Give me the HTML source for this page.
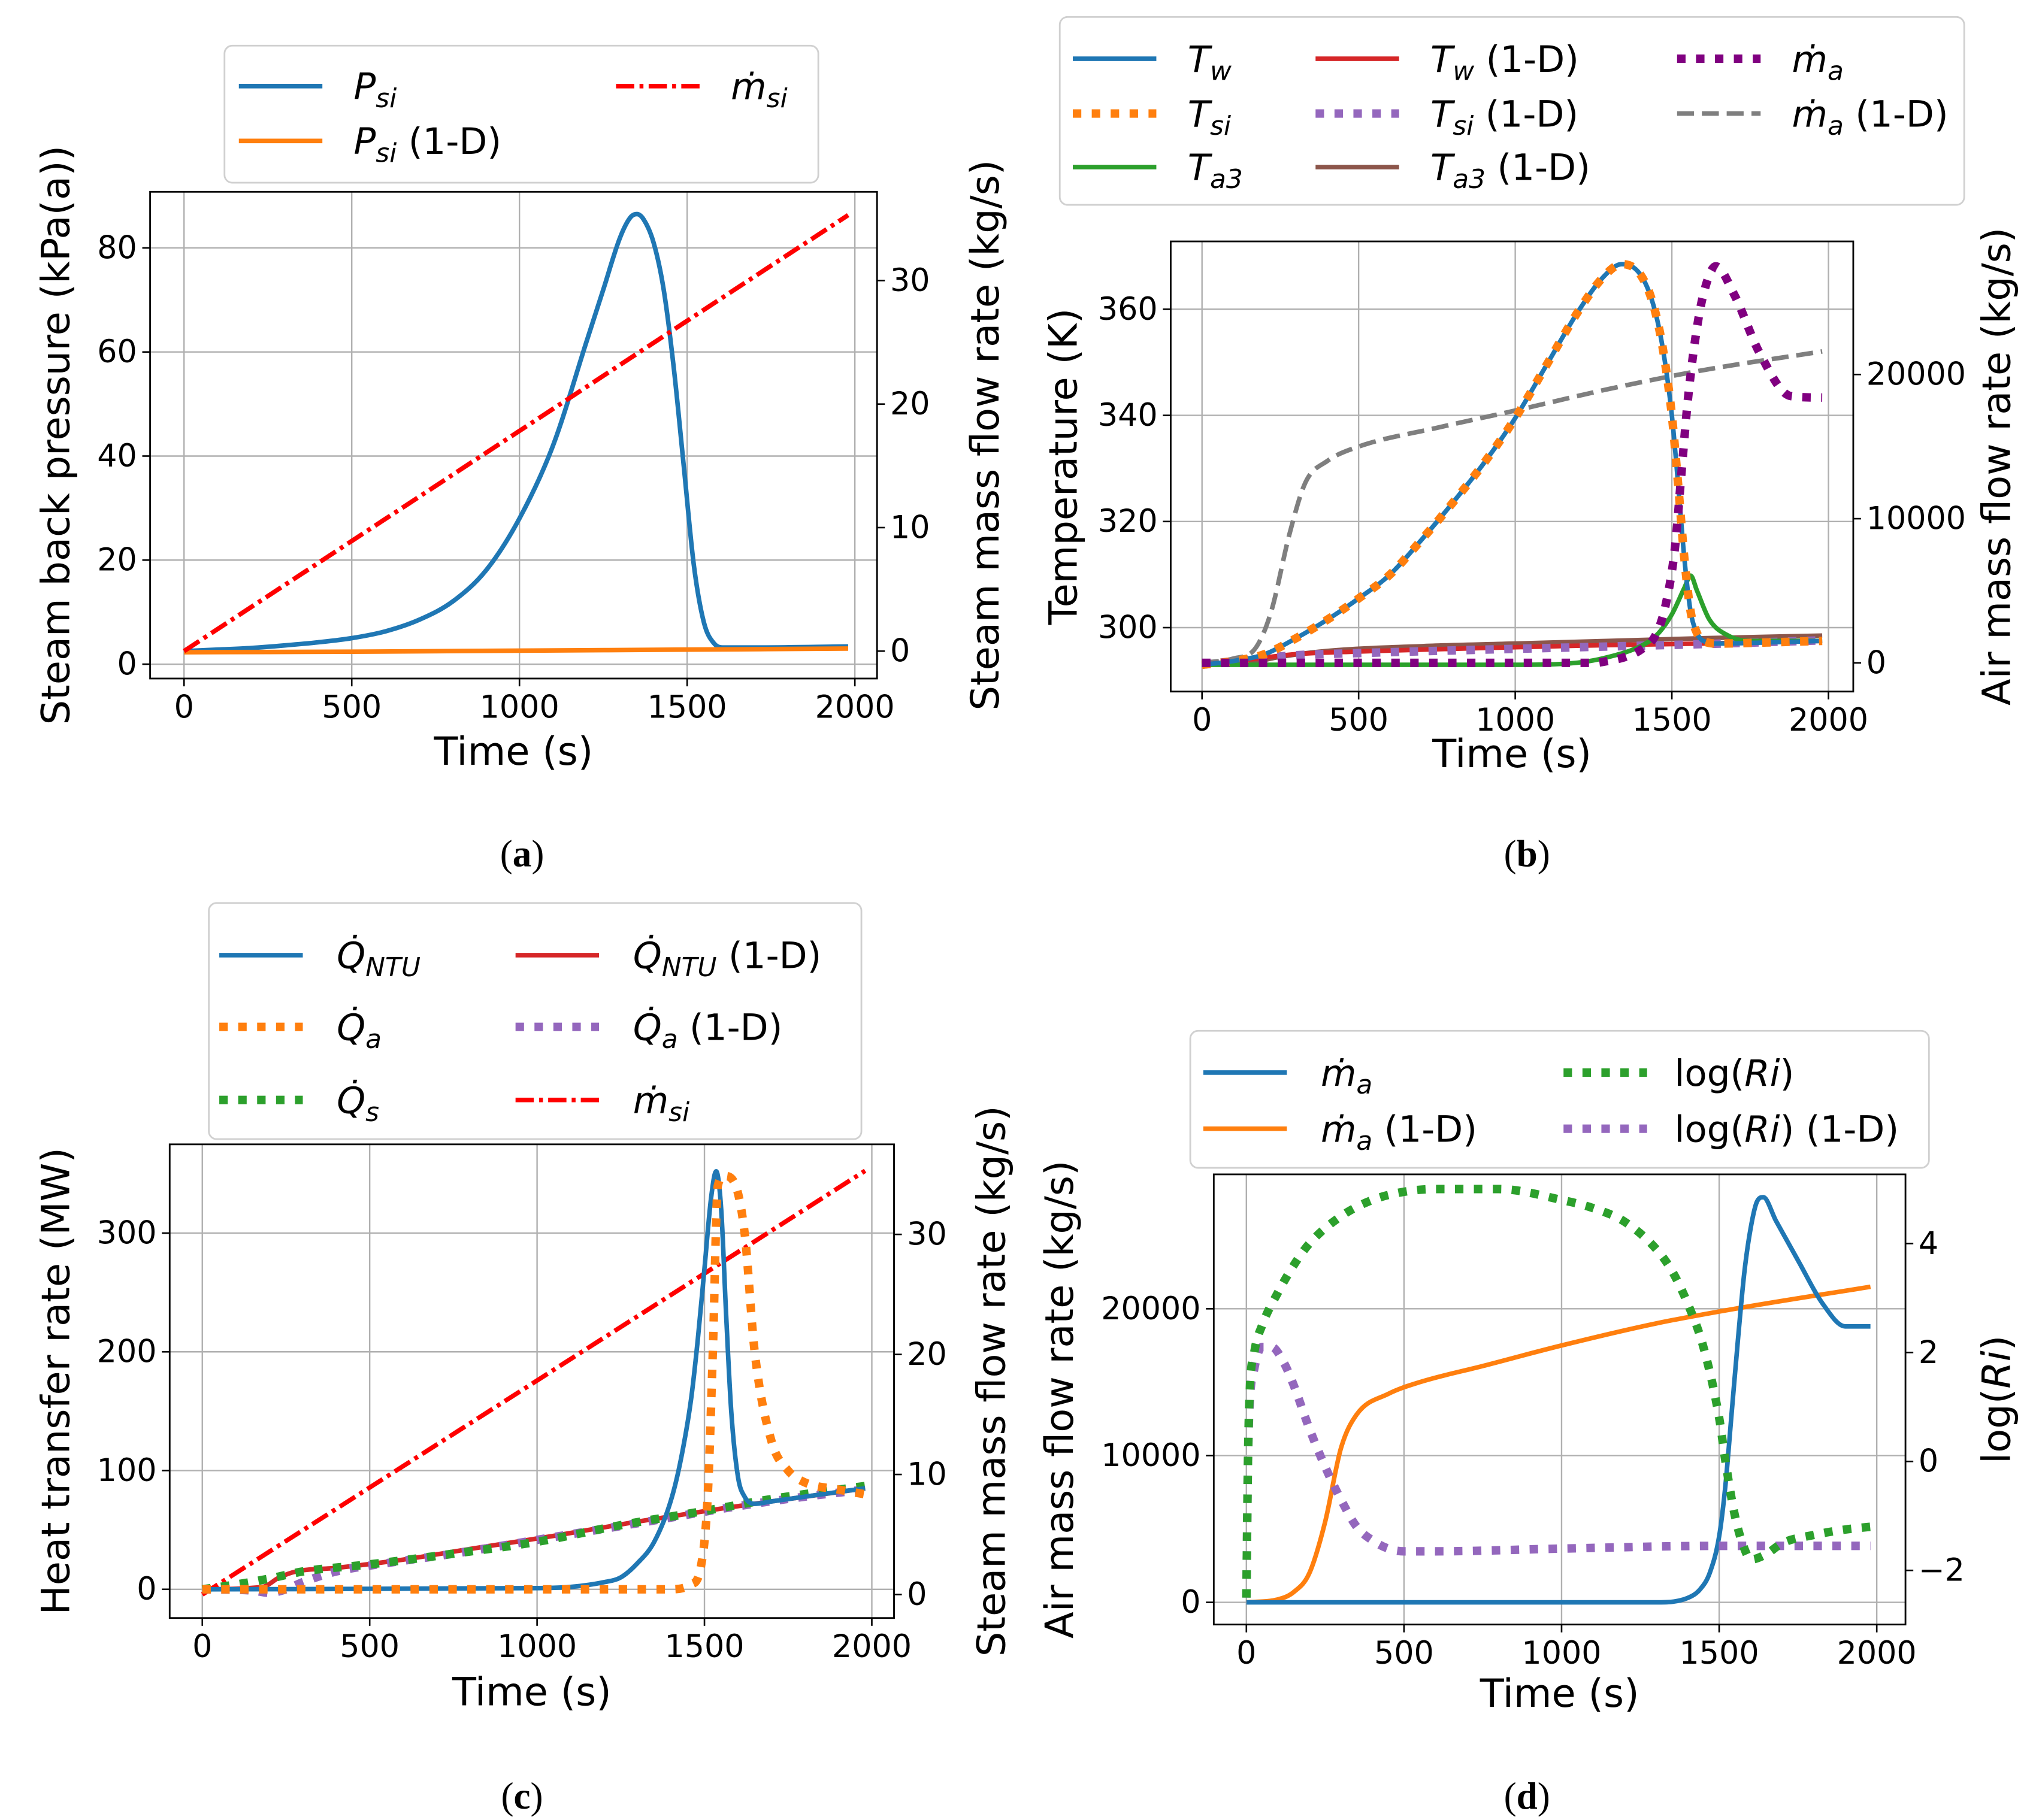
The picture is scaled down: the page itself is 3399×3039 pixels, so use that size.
<!DOCTYPE html>
<html><head><meta charset="utf-8"><style>
html,body{margin:0;padding:0;background:#fff;}
svg{display:block;}
text{font-family:"DejaVu Sans","Liberation Sans",sans-serif;}
text.cap{font-family:"Liberation Serif",serif;}
</style></head><body>
<svg id="fig" xmlns="http://www.w3.org/2000/svg" width="3399" height="3039" viewBox="0 0 1560 1394.8"></svg>
<script>
// ---------- DATA ----------
const timeTicks=[0,500,1000,1500,2000];
// Panel a
const aPsiT=[0,100,200,300,400,500,600,700,800,900,1000,1100,1200,1250,1300,1330,1350,1370,1400,1430,1460,1490,1520,1550,1580,1610,1700,1980];
const aPsiV=[2.5,2.8,3.1,3.6,4.2,5.0,6.3,8.5,12,18,28,42,62,72,82,85.8,86.5,85.5,81,72,57,38,19,8,4,3.2,3.2,3.4];
const aPsi1T=[0,500,1000,1500,1980];
const aPsi1V=[2.3,2.4,2.6,2.8,3.0];
const aMsiT=[0,1980];
const aMsiV=[0,35.3];
const aLeftTicks=[0,20,40,60,80];
const aRightTicks=[0,10,20,30];
// Panel b
const bTwT=[0,100,200,300,400,500,600,700,800,900,1000,1100,1200,1280,1340,1400,1440,1470,1500,1520,1540,1560,1580,1600,1650,1800,1980];
const bTwV=[293,293.7,295,298,301.5,305.5,310,316.5,323.5,331,339.5,349.5,359.5,366,368.5,366.5,361,353,340,327,313,303,299,297.5,297,297.2,297.5];
const bTa3T=[0,1000,1200,1300,1400,1450,1500,1540,1560,1580,1620,1680,1750,1980];
const bTa3V=[293,293,293.4,294.5,296.5,298.5,302.5,307.5,309.8,307,301.5,298.5,297.5,297.5];
const bTw1T=[0,150,300,500,800,1200,1600,1980];
const bTw1V=[293,294,295,295.5,296,296.6,297,297.5];
const bTsi1T=[0,150,300,500,800,1200,1600,1980];
const bTsi1V=[293,294,294.8,295.2,295.7,296.3,296.9,297.6];
const bTa31T=[0,150,250,400,700,1000,1300,1600,1980];
const bTa31V=[293,293.4,294.5,295.6,296.5,297,297.5,298,298.5];
const bMaT=[0,1250,1300,1350,1400,1450,1480,1510,1530,1550,1575,1600,1640,1700,1780,1880,1980];
const bMaV=[0,0,150,400,900,2000,4000,8000,13000,18000,22500,25500,27500,25500,21500,18500,18400];
const bMa1T=[0,100,170,220,280,330,400,500,750,1000,1300,1600,1980];
const bMa1V=[0,300,1000,3500,9000,12500,14000,15000,16300,17500,19000,20300,21600];
const bLeftTicks=[300,320,340,360];
const bRightTicks=[0,10000,20000];
// Panel c
const cNtuT=[0,1000,1100,1200,1250,1300,1350,1400,1430,1460,1480,1500,1520,1535,1550,1565,1580,1600,1620,1650,1700,1800,1900,1980];
const cNtuV=[0,1,2,6,10,22,40,75,110,160,210,270,330,352,320,230,150,95,78,72,74,78,82,85];
const cQaT=[0,1400,1460,1490,1510,1525,1540,1560,1590,1620,1650,1700,1750,1800,1900,1980];
const cQaV=[0,0,4,20,80,200,340,348,342,300,200,125,100,90,84,80];
const cQsT=[0,100,200,300,500,750,1000,1250,1500,1700,1980];
const cQsV=[0,4,9,15,21,30,40,54,66,76,87];
const cNtu1T=[0,180,230,280,400,600,800,1050,1300,1550,1750,1980];
const cNtu1V=[0,2,10,15,18,25,34,45,57,68,76,85];
const cQa1T=[0,150,200,250,300,400,550,750,1050,1350,1600,1800,1980];
const cQa1V=[0,-1,-3,0,6,15,22,30,44,58,70,78,84];
const cMsiT=[0,1980];
const cMsiV=[0,35.3];
const cLeftTicks=[0,100,200,300];
const cRightTicks=[0,10,20,30];
// Panel d
const dMaT=[0,1300,1400,1440,1470,1500,1520,1540,1560,1580,1600,1620,1640,1680,1750,1830,1900,1980];
const dMaV=[0,0,300,900,2000,4500,8000,13000,18000,22500,25500,27300,27600,26000,23300,20300,18800,18800];
const dMa1T=[0,100,150,200,250,300,350,450,550,750,1000,1300,1550,1980];
const dMa1V=[0,200,700,2000,5500,10500,12800,14200,15000,16100,17500,19000,20000,21500];
const dRiT=[0,5,10,25,50,100,150,200,300,400,500,600,800,1000,1100,1200,1300,1350,1400,1450,1500,1520,1550,1580,1600,1650,1700,1800,1900,1980];
const dRiV=[-2.5,0,1.2,2,2.5,3.1,3.6,4,4.5,4.8,4.95,5,5,4.8,4.65,4.4,3.9,3.5,2.9,2.1,0.8,0,-1,-1.6,-1.8,-1.7,-1.5,-1.35,-1.25,-1.2];
const dRi1T=[0,5,10,25,50,80,120,150,200,250,300,350,400,450,500,600,1000,1500,1980];
const dRi1V=[-2.5,0,1,1.7,2.1,2.1,1.8,1.4,0.6,-0.1,-0.7,-1.2,-1.45,-1.6,-1.65,-1.65,-1.6,-1.55,-1.55];
const dLeftTicks=[0,10000,20000];
const dRightTicks=[-2,0,2,4];

// ---------- DRAWING ----------
const NS="http://www.w3.org/2000/svg";
const fig=document.getElementById('fig');
function mk(tag,attrs,parent){const e=document.createElementNS(NS,tag);for(const k in attrs)e.setAttribute(k,attrs[k]);(parent||fig).appendChild(e);return e;}
function lin(d0,d1,p0,p1){return v=>p0+(v-d0)*(p1-p0)/(d1-d0);}
const C={blue:'#1f77b4',orange:'#ff7f0e',green:'#2ca02c',red:'#d62728',purple:'#9467bd',brown:'#8c564b',grey:'#7f7f7f',rred:'#ff0000',dpurple:'#800080'};
const STY={
 solid:{w:3.5,d:''},dot:{w:6.5,d:'6.5 8'},dash:{w:3.5,d:'13 6'},dashdot:{w:3.5,d:'14 4 3 4'}
};
function series(g,xs,ys,T,V,color,sty,name){
  const P=T.map((t,i)=>[xs(t),ys(V[i])]);
  const n=P.length;
  let d='M'+P[0][0].toFixed(2)+','+P[0][1].toFixed(2);
  if(n>2){
    // monotone cubic (Fritsch-Carlson)
    const dx=[],s=[];
    for(let i=0;i<n-1;i++){dx.push(P[i+1][0]-P[i][0]);s.push((P[i+1][1]-P[i][1])/dx[i]);}
    const m=new Array(n);
    m[0]=s[0];m[n-1]=s[n-2];
    for(let i=1;i<n-1;i++){m[i]=(s[i-1]*s[i]<=0)?0:(s[i-1]+s[i])/2;}
    for(let i=0;i<n-1;i++){
      if(s[i]===0){m[i]=0;m[i+1]=0;continue;}
      const a=m[i]/s[i],b=m[i+1]/s[i],h=a*a+b*b;
      if(h>9){const t=3/Math.sqrt(h);m[i]=t*a*s[i];m[i+1]=t*b*s[i];}
    }
    for(let i=0;i<n-1;i++){
      const h=dx[i]/3;
      d+='C'+(P[i][0]+h).toFixed(2)+','+(P[i][1]+m[i]*h).toFixed(2)+' '+(P[i+1][0]-h).toFixed(2)+','+(P[i+1][1]-m[i+1]*h).toFixed(2)+' '+P[i+1][0].toFixed(2)+','+P[i+1][1].toFixed(2);
    }
  } else {
    for(let i=1;i<n;i++)d+='L'+P[i][0].toFixed(2)+','+P[i][1].toFixed(2);
  }
  const p=mk('path',{d:d,fill:'none',stroke:color,'stroke-width':STY[sty].w,'stroke-linejoin':'round'},g);
  if(STY[sty].d)p.setAttribute('stroke-dasharray',STY[sty].d);
  
  
  return p;
}
function label(g,x,y,parts,size,anchor,name){
  const t=mk('text',{x:x,y:y,'font-size':size,'text-anchor':anchor||'start'},g);
  
  
  parts.forEach(p=>{const s=mk('tspan',{},t);s.textContent=p[0];
    if(p[1]=='i')s.setAttribute('font-style','italic');
    if(p[1]=='sub'){s.setAttribute('font-style','italic');s.setAttribute('font-size',size*0.72);s.setAttribute('dy',size*0.22);}
    if(p[1]=='up'){s.setAttribute('dy',-size*0.22);}
  });
  return t;
}
function panel(cfg){
  const g=mk('g',{});
  
  
  const {L,R,T,B}=cfg.box;
  const xs=lin(0,2000,cfg.x0,cfg.x2000);
  const ys=lin(cfg.ly[0],cfg.ly[1],cfg.ly[2],cfg.ly[3]);
  const ry=lin(cfg.ry[0],cfg.ry[1],cfg.ry[2],cfg.ry[3]);
  timeTicks.forEach(t=>{const l=mk('line',{x1:xs(t),x2:xs(t),y1:T,y2:B,stroke:'#b0b0b0','stroke-width':1.1},g);
    });
  cfg.lt.forEach(v=>{const l=mk('line',{x1:L,x2:R,y1:ys(v),y2:ys(v),stroke:'#b0b0b0','stroke-width':1.1},g);
    });
  cfg.series.forEach(s=>series(g,xs,s.right?ry:ys,s.t,s.v,s.c,s.s,s.n));
  const fr=mk('rect',{x:L,y:T,width:R-L,height:B-T,fill:'none',stroke:'#000','stroke-width':1.3},g);
  
  timeTicks.forEach(t=>{mk('line',{x1:xs(t),x2:xs(t),y1:B,y2:B+6,stroke:'#000','stroke-width':1.2},g);
    const tx=mk('text',{x:xs(t),y:B+30,'font-size':24,'text-anchor':'middle'},g);tx.textContent=t;
    });
  cfg.lt.forEach(v=>{mk('line',{x1:L-6,x2:L,y1:ys(v),y2:ys(v),stroke:'#000','stroke-width':1.2},g);
    const tx=mk('text',{x:L-10,y:ys(v)+8,'font-size':24,'text-anchor':'end'},g);tx.textContent=v;
    });
  cfg.rt.forEach(v=>{mk('line',{x1:R,x2:R+6,y1:ry(v),y2:ry(v),stroke:'#000','stroke-width':1.2},g);
    const tx=mk('text',{x:R+10,y:ry(v)+8,'font-size':24,'text-anchor':'start'},g);tx.textContent=(v<0?'\u2212'+(-v):v);
    });
  const xt=mk('text',{x:(L+R)/2,y:cfg.xtY,'font-size':30,'text-anchor':'middle'},g);xt.textContent='Time (s)';
  
  const yl=label(g,0,0,cfg.ylab,30,'middle','left-y-axis-title');
  yl.setAttribute('transform',`translate(${cfg.ylX},${(T+B)/2+cfg.ylOff}) rotate(-90)`);
  const yr=label(g,0,0,cfg.yrlab,30,'middle','right-y-axis-title');
  yr.setAttribute('transform',`translate(${cfg.yrX},${(T+B)/2+cfg.yrOff}) rotate(-90)`);
  const lb=cfg.leg.box;
  const lr=mk('rect',{x:lb[0],y:lb[1],width:lb[2]-lb[0],height:lb[3]-lb[1],rx:6,fill:'#fff','fill-opacity':0.8,stroke:'#d0d0d0','stroke-width':1.3},g);
  
  cfg.leg.items.forEach(it=>{
    const l=mk('line',{x1:it.x,x2:it.x+64,y1:it.y,y2:it.y,stroke:it.c,'stroke-width':STY[it.s].w},g);
    if(STY[it.s].d)l.setAttribute('stroke-dasharray',STY[it.s].d);
    
    label(g,it.x+(it.tx||88),it.y+10,it.lab,28,'start','legend-entry');
  });
  const cap=mk('text',{x:cfg.cap[0],y:cfg.cap[1],'font-size':29,'text-anchor':'middle','class':'cap'},g);
  
  const c1=mk('tspan',{},cap);c1.textContent='(';
  const c2=mk('tspan',{'font-weight':'bold'},cap);c2.textContent=cfg.capL;
  const c3=mk('tspan',{},cap);c3.textContent=')';
}
const MD='m\u0307', QD='Q\u0307';
panel({name:'panel-a',box:{L:115,R:672,T:147,B:520},x0:141,x2000:655,ly:[0,80,509,190],ry:[0,30,499,215],
 lt:aLeftTicks,rt:aRightTicks,xtY:586,ylX:53,ylOff:0,yrX:765,yrOff:0,
 ylab:[['Steam back pressure (kPa(a))']],yrlab:[['Steam mass flow rate (kg/s)']],
 series:[{t:aPsiT,v:aPsiV,c:C.blue,s:'solid',n:'psi-line'},{t:aPsi1T,v:aPsi1V,c:C.orange,s:'solid',n:'psi-1d-line'},
  {t:aMsiT,v:aMsiV,c:C.rred,s:'dashdot',n:'msi-line',right:true}],
 leg:{box:[172,35,627,140],items:[
  {x:183,y:66,c:C.blue,s:'solid',lab:[['P','i'],['si','sub']]},
  {x:183,y:108,c:C.orange,s:'solid',lab:[['P','i'],['si','sub'],[' (1-D)','up']]},
  {x:472,y:66,c:C.rred,s:'dashdot',lab:[[MD,'i'],['si','sub']]}]},
 cap:[400,664],capL:'a'});
panel({name:'panel-b',box:{L:897,R:1420,T:185,B:530},x0:921,x2000:1401,ly:[300,360,481,237],ry:[0,20000,508,287],
 lt:bLeftTicks,rt:bRightTicks,xtY:588,ylX:825,ylOff:0,yrX:1540,yrOff:0,
 ylab:[['Temperature (K)']],yrlab:[['Air mass flow rate (kg/s)']],
 series:[{t:bMa1T,v:bMa1V,c:C.grey,s:'dash',n:'ma-1d-line',right:true},
  {t:bTa31T,v:bTa31V,c:C.brown,s:'solid',n:'ta3-1d-line'},
  {t:bTw1T,v:bTw1V,c:C.red,s:'solid',n:'tw-1d-line'},
  {t:bTsi1T,v:bTsi1V,c:C.purple,s:'dot',n:'tsi-1d-line'},
  {t:bTa3T,v:bTa3V,c:C.green,s:'solid',n:'ta3-line'},
  {t:bTwT,v:bTwV,c:C.blue,s:'solid',n:'tw-line'},
  {t:bTwT,v:bTwV,c:C.orange,s:'dot',n:'tsi-line'},
  {t:bMaT,v:bMaV,c:C.dpurple,s:'dot',n:'ma-line',right:true}],
 leg:{box:[812,13,1505,157],items:[
  {x:822,y:45,c:C.blue,s:'solid',lab:[['T','i'],['w','sub']]},
  {x:822,y:87,c:C.orange,s:'dot',lab:[['T','i'],['si','sub']]},
  {x:822,y:128,c:C.green,s:'solid',lab:[['T','i'],['a3','sub']]},
  {x:1008,y:45,c:C.red,s:'solid',lab:[['T','i'],['w','sub'],[' (1-D)','up']]},
  {x:1008,y:87,c:C.purple,s:'dot',lab:[['T','i'],['si','sub'],[' (1-D)','up']]},
  {x:1008,y:128,c:C.brown,s:'solid',lab:[['T','i'],['a3','sub'],[' (1-D)','up']]},
  {x:1285,y:45,c:C.dpurple,s:'dot',lab:[[MD,'i'],['a','sub']]},
  {x:1285,y:87,c:C.grey,s:'dash',lab:[[MD,'i'],['a','sub'],[' (1-D)','up']]}]},
 cap:[1170,664],capL:'b'});
panel({name:'panel-c',box:{L:130,R:685,T:877,B:1240},x0:155,x2000:668,ly:[0,300,1218,945],ry:[0,30,1222,946],
 lt:cLeftTicks,rt:cRightTicks,xtY:1307,ylX:53,ylOff:0,yrX:770,yrOff:0,
 ylab:[['Heat transfer rate (MW)']],yrlab:[['Steam mass flow rate (kg/s)']],
 series:[{t:cMsiT,v:cMsiV,c:C.rred,s:'dashdot',n:'msi-line',right:true},
  {t:cNtu1T,v:cNtu1V,c:C.red,s:'solid',n:'qntu-1d-line'},
  {t:cQa1T,v:cQa1V,c:C.purple,s:'dot',n:'qa-1d-line'},
  {t:cQsT,v:cQsV,c:C.green,s:'dot',n:'qs-line'},
  {t:cNtuT,v:cNtuV,c:C.blue,s:'solid',n:'qntu-line'},
  {t:cQaT,v:cQaV,c:C.orange,s:'dot',n:'qa-line'}],
 leg:{box:[160,692,660,873],items:[
  {x:168,y:732,c:C.blue,s:'solid',tx:90,lab:[[QD,'i'],['NTU','sub']]},
  {x:168,y:787,c:C.orange,s:'dot',tx:90,lab:[[QD,'i'],['a','sub']]},
  {x:168,y:843,c:C.green,s:'dot',tx:90,lab:[[QD,'i'],['s','sub']]},
  {x:395,y:732,c:C.red,s:'solid',tx:90,lab:[[QD,'i'],['NTU','sub'],[' (1-D)','up']]},
  {x:395,y:787,c:C.purple,s:'dot',tx:90,lab:[[QD,'i'],['a','sub'],[' (1-D)','up']]},
  {x:395,y:843,c:C.rred,s:'dashdot',tx:90,lab:[[MD,'i'],['si','sub']]}]},
 cap:[400,1386],capL:'c'});
panel({name:'panel-d',box:{L:930,R:1460,T:900,B:1245},x0:955,x2000:1438,ly:[0,20000,1228,1003],ry:[0,4,1120,953],
 lt:dLeftTicks,rt:dRightTicks,xtY:1308,ylX:822,ylOff:0,yrX:1540,yrOff:0,
 ylab:[['Air mass flow rate (kg/s)']],yrlab:[['log('],['Ri','i'],[')']],
 series:[{t:dMa1T,v:dMa1V,c:C.orange,s:'solid',n:'ma-1d-line'},
  {t:dMaT,v:dMaV,c:C.blue,s:'solid',n:'ma-line'},
  {t:dRi1T,v:dRi1V,c:C.purple,s:'dot',n:'logri-1d-line',right:true},
  {t:dRiT,v:dRiV,c:C.green,s:'dot',n:'logri-line',right:true}],
 leg:{box:[912,790,1478,895],items:[
  {x:922,y:822,c:C.blue,s:'solid',tx:90,lab:[[MD,'i'],['a','sub']]},
  {x:922,y:865,c:C.orange,s:'solid',tx:90,lab:[[MD,'i'],['a','sub'],[' (1-D)','up']]},
  {x:1198,y:822,c:C.green,s:'dot',tx:85,lab:[['log('],['Ri','i'],[')']]},
  {x:1198,y:865,c:C.purple,s:'dot',tx:85,lab:[['log('],['Ri','i'],[') (1-D)']]}]},
 cap:[1170,1386],capL:'d'});
</script>
</body></html>
